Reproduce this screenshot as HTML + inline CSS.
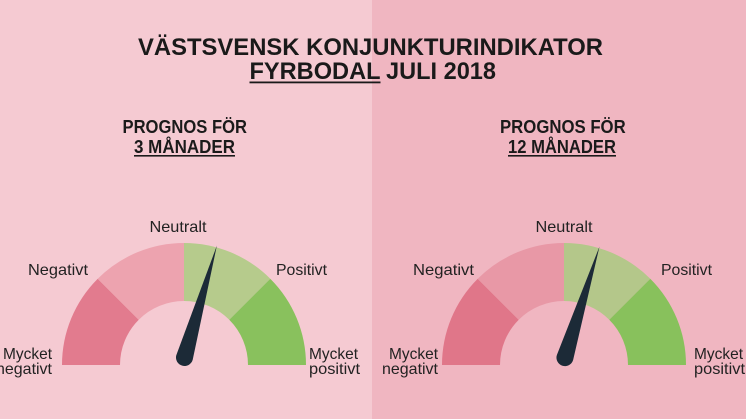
<!DOCTYPE html>
<html><head><meta charset="utf-8"><style>
html,body{margin:0;padding:0;width:746px;height:419px;overflow:hidden;background:#f5cad2}
svg{display:block}
.t{font-family:"Liberation Sans",sans-serif;font-weight:bold;fill:#1a1a1a}
.l{font-family:"Liberation Sans",sans-serif;font-size:16px;fill:#222}
</style></head><body>
<svg width="746" height="419" viewBox="0 0 746 419" xmlns="http://www.w3.org/2000/svg">
<rect x="0" y="0" width="372" height="419" fill="#f5cad2"/>
<rect x="372" y="0" width="374" height="419" fill="#f0b6c1"/>

<text class="t" x="138" y="55" font-size="24" textLength="465" lengthAdjust="spacingAndGlyphs">VÄSTSVENSK KONJUNKTURINDIKATOR</text>
<text class="t" x="249.5" y="79" font-size="24" textLength="131" lengthAdjust="spacingAndGlyphs">FYRBODAL</text>
<rect x="249.5" y="81.5" width="131" height="1.8" fill="#1a1a1a"/>
<text class="t" x="386" y="79" font-size="24" textLength="110" lengthAdjust="spacingAndGlyphs">JULI 2018</text>

<text class="t" x="122.5" y="133" font-size="18" textLength="124.5" lengthAdjust="spacingAndGlyphs">PROGNOS FÖR</text>
<text class="t" x="134" y="153" font-size="18" textLength="101" lengthAdjust="spacingAndGlyphs">3 MÅNADER</text>
<rect x="134" y="155" width="101" height="1.6" fill="#1a1a1a"/>

<text class="t" x="500" y="133" font-size="18" textLength="125.7" lengthAdjust="spacingAndGlyphs">PROGNOS FÖR</text>
<text class="t" x="508" y="153" font-size="18" textLength="108" lengthAdjust="spacingAndGlyphs">12 MÅNADER</text>
<rect x="508" y="155" width="108" height="1.6" fill="#1a1a1a"/>

<!-- Left gauge -->
<g transform="translate(184,365)">
<path d="M-122 0 A122 122 0 0 1 -86.27 -86.27 L-45.25 -45.25 A64 64 0 0 0 -64 0 Z" fill="#e27b8e"/>
<path d="M-86.27 -86.27 A122 122 0 0 1 0 -122 L0 -64 A64 64 0 0 0 -45.25 -45.25 Z" fill="#eda3af"/>
<path d="M0 -122 A122 122 0 0 1 86.27 -86.27 L45.25 -45.25 A64 64 0 0 0 0 -64 Z" fill="#b6cb8c"/>
<path d="M86.27 -86.27 A122 122 0 0 1 122 0 L64 0 A64 64 0 0 0 45.25 -45.25 Z" fill="#89c15d"/>
</g>
<path d="M216.9 245.5 L192.67 359.85 A8.5 8.5 0 1 1 176.33 355.15 Z" fill="#1c2a37"/>

<text class="l" x="178" y="232" text-anchor="middle" textLength="57" lengthAdjust="spacingAndGlyphs">Neutralt</text>
<text class="l" x="28" y="275" textLength="60" lengthAdjust="spacingAndGlyphs">Negativt</text>
<text class="l" x="276" y="275" textLength="51" lengthAdjust="spacingAndGlyphs">Positivt</text>
<text class="l" x="52" y="359" text-anchor="end" textLength="49" lengthAdjust="spacingAndGlyphs">Mycket</text>
<text class="l" x="52" y="374" text-anchor="end" textLength="56" lengthAdjust="spacingAndGlyphs">negativt</text>
<text class="l" x="309" y="359" textLength="49" lengthAdjust="spacingAndGlyphs">Mycket</text>
<text class="l" x="309" y="374" textLength="51" lengthAdjust="spacingAndGlyphs">positivt</text>

<!-- Right gauge -->
<g transform="translate(564,365)">
<path d="M-122 0 A122 122 0 0 1 -86.27 -86.27 L-45.25 -45.25 A64 64 0 0 0 -64 0 Z" fill="#e07689"/>
<path d="M-86.27 -86.27 A122 122 0 0 1 0 -122 L0 -64 A64 64 0 0 0 -45.25 -45.25 Z" fill="#e898a6"/>
<path d="M0 -122 A122 122 0 0 1 86.27 -86.27 L45.25 -45.25 A64 64 0 0 0 0 -64 Z" fill="#b4c78a"/>
<path d="M86.27 -86.27 A122 122 0 0 1 122 0 L64 0 A64 64 0 0 0 45.25 -45.25 Z" fill="#88c15c"/>
</g>
<path d="M599.5 246.5 L573.12 360.01 A8.5 8.5 0 1 1 556.88 354.99 Z" fill="#1c2a37"/>

<text class="l" x="564" y="232" text-anchor="middle" textLength="57" lengthAdjust="spacingAndGlyphs">Neutralt</text>
<text class="l" x="413" y="275" textLength="61" lengthAdjust="spacingAndGlyphs">Negativt</text>
<text class="l" x="661" y="275" textLength="51" lengthAdjust="spacingAndGlyphs">Positivt</text>
<text class="l" x="438" y="359" text-anchor="end" textLength="49" lengthAdjust="spacingAndGlyphs">Mycket</text>
<text class="l" x="438" y="374" text-anchor="end" textLength="56" lengthAdjust="spacingAndGlyphs">negativt</text>
<text class="l" x="694" y="359" textLength="49" lengthAdjust="spacingAndGlyphs">Mycket</text>
<text class="l" x="694" y="374" textLength="51" lengthAdjust="spacingAndGlyphs">positivt</text>
</svg>
</body></html>
